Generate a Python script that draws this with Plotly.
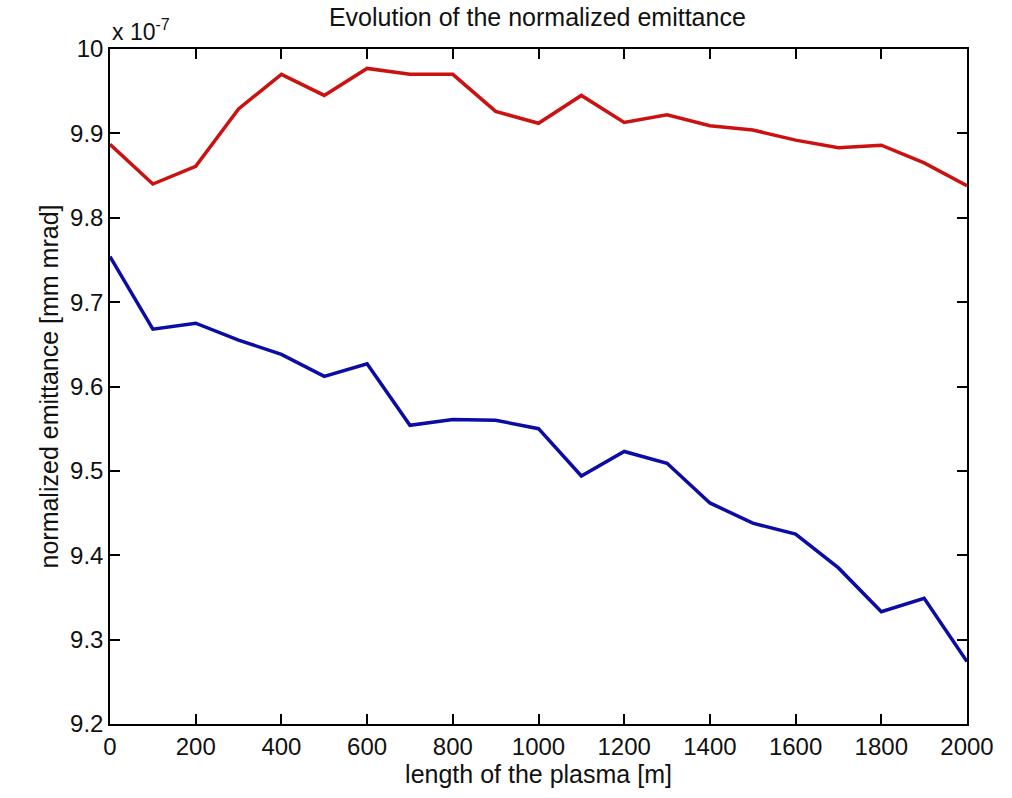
import plotly.graph_objects as go

plasma_length = [0, 100, 200, 300, 400, 500, 600, 700, 800, 900, 1000,
                 1100, 1200, 1300, 1400, 1500, 1600, 1700, 1800, 1900, 2000]
emit_red = [9.887, 9.840, 9.861, 9.929, 9.970, 9.945, 9.977, 9.970, 9.970, 9.926, 9.912,
            9.945, 9.913, 9.922, 9.909, 9.904, 9.892, 9.883, 9.886, 9.865, 9.838]
emit_blue = [9.754, 9.668, 9.675, 9.655, 9.638, 9.612, 9.627, 9.554, 9.561, 9.560, 9.550,
             9.494, 9.523, 9.509, 9.462, 9.438, 9.425, 9.385, 9.333, 9.349, 9.274]
y_ticks = [9.2, 9.3, 9.4, 9.5, 9.6, 9.7, 9.8, 9.9, 10.0]
y_ticktext = ["9.2", "9.3", "9.4", "9.5", "9.6", "9.7", "9.8", "9.9", "10"]
x_ticks = [0, 200, 400, 600, 800, 1000, 1200, 1400, 1600, 1800, 2000]

FONT = "Liberation Sans, Arial, sans-serif"

fig = go.Figure()
fig.add_trace(go.Scatter(x=plasma_length, y=emit_red, mode="lines",
                         line=dict(color="#cc1111", width=3.5), showlegend=False))
fig.add_trace(go.Scatter(x=plasma_length, y=emit_blue, mode="lines",
                         line=dict(color="#0b0ba5", width=3.5), showlegend=False))

axis_common = dict(showline=True, linecolor="black", linewidth=1.5, mirror="allticks",
                   ticks="inside", ticklen=10, tickwidth=1.5, tickcolor="black",
                   showgrid=False, zeroline=False,
                   tickfont=dict(family=FONT, size=24, color="#111"))

fig.update_layout(
    width=1012, height=798,
    margin=dict(l=110, r=45, t=49, b=74),
    plot_bgcolor="white", paper_bgcolor="white",
    title=dict(text="Evolution of the normalized emittance", x=0.531, xanchor="center",
               y=0.978, yanchor="middle", font=dict(family=FONT, size=25, color="#111")),
    xaxis=dict(range=[0, 2000], tickvals=x_ticks,
               title=dict(text="length of the plasma [m]", standoff=2,
                          font=dict(family=FONT, size=25, color="#111")),
               **axis_common),
    yaxis=dict(range=[9.2, 10.0], tickvals=y_ticks, ticktext=y_ticktext,
               title=dict(text="normalized emittance [mm mrad]", standoff=4,
                          font=dict(family=FONT, size=25, color="#111")),
               **axis_common),
)
fig.add_annotation(text="x 10<sup>-7</sup>", xref="paper", yref="paper", x=0.0, y=1.0,
                   xanchor="left", yanchor="bottom", yshift=2, showarrow=False,
                   font=dict(family=FONT, size=23, color="#111"))

fig.write_html("out.html")
